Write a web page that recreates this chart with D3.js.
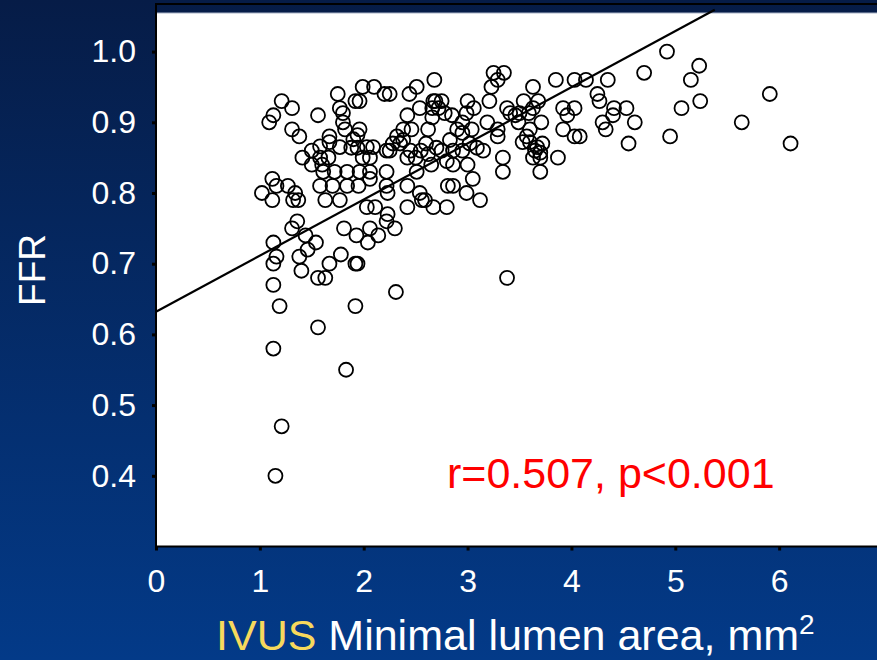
<!DOCTYPE html>
<html>
  <head>
    <meta charset="utf-8">
    <title>FFR vs IVUS MLA</title>
    <script src="https://d3js.org/d3.v7.min.js"></script>
    <style>
      html, body { margin: 0; padding: 0; background: #05245a; }
      svg { display: block; }
      text { font-family: "Liberation Sans", Arial, sans-serif; }
      .axis path.domain { stroke: #000; stroke-width: 2; }
      .axis .tick line { stroke: #000; stroke-width: 3; }
      .axis .tick text { fill: #fff; font-size: 32px; }
    </style>
  </head>
  <body>
    <svg id="chart" width="877" height="660"></svg>
    <script>
      // data: [minimal lumen area mm2, FFR]
      const points = [
        [1.15,0.40],[1.21,0.47],[1.83,0.55],[1.13,0.58],[1.56,0.61],[1.19,0.64],[1.92,0.64],
        [2.31,0.66],[3.38,0.68],[1.13,0.67],[1.56,0.68],[1.63,0.68],
        [1.40,0.69],[1.13,0.70],[1.67,0.70],[1.92,0.70],[1.94,0.70],[1.38,0.71],[1.16,0.71],[1.78,0.713],
        [1.46,0.72],[1.54,0.73],[1.13,0.73],[2.04,0.73],[1.44,0.74],[1.93,0.74],[2.14,0.74],
        [1.31,0.75],[1.81,0.75],[2.06,0.75],[2.30,0.75],[1.36,0.76],[2.22,0.76],
        [2.23,0.77],[2.03,0.78],[2.11,0.78],[2.42,0.78],[2.67,0.78],[2.80,0.78],[2.59,0.79],[2.56,0.79],
        [3.12,0.79],[1.12,0.79],[1.32,0.79],[1.37,0.79],[1.63,0.79],[1.77,0.79],[1.02,0.80],[1.34,0.80],
        [2.23,0.80],[2.54,0.80],[2.99,0.80],
        [1.16,0.81],[1.27,0.81],[1.58,0.81],[1.70,0.81],[1.84,0.81],[1.95,0.81],[2.22,0.81],[2.42,0.81],
        [2.81,0.81],[2.86,0.81],[1.12,0.82],[2.06,0.82],[3.05,0.82],[2.51,0.83],[2.22,0.83],[1.61,0.83],
        [1.72,0.83],[1.84,0.83],[1.96,0.83],[2.06,0.83],[3.34,0.83],[3.70,0.83],
        [1.50,0.84],[1.60,0.84],[2.86,0.84],[3.00,0.84],[1.41,0.85],[1.58,0.85],[1.66,0.85],[1.99,0.85],
        [2.06,0.85],[3.34,0.85],[3.63,0.85],[3.70,0.85],[3.87,0.85],[3.70,0.857],[1.50,0.86],[2.22,0.86],
        [2.25,0.86],[2.86,0.86],[2.95,0.86],[1.58,0.866],[1.77,0.865],[2.03,0.865],[2.09,0.865],[1.88,0.864],
        [1.94,0.864],[2.70,0.864],[3.09,0.864],[3.65,0.86],[3.67,0.865],
        [2.45,0.86],[2.55,0.86],[2.62,0.855],[2.75,0.86],[2.50,0.85],[2.60,0.87],[2.80,0.845],[2.42,0.85],
        [3.15,0.86],[2.65,0.84],
        [1.67,0.872],[1.90,0.876],[2.28,0.87],[2.35,0.87],[2.38,0.875],[2.83,0.875],[3.02,0.87],[3.53,0.872],
        [3.60,0.872],[3.72,0.87],[4.55,0.87],[6.11,0.87],[3.29,0.88],[1.38,0.88],[1.67,0.88],[1.94,0.882],
        [2.32,0.88],[2.95,0.885],[3.57,0.88],[4.03,0.88],[4.08,0.88],[4.95,0.88],
        [1.31,0.89],[1.82,0.89],[1.96,0.89],[2.38,0.89],[2.46,0.89],[2.62,0.89],[2.90,0.89],[3.04,0.89],
        [3.29,0.89],[3.60,0.89],[3.92,0.89],[4.33,0.89],
        [1.09,0.90],[1.80,0.90],[2.95,0.90],[3.19,0.90],[3.49,0.90],[3.71,0.90],[4.30,0.90],[4.61,0.90],
        [5.64,0.90],[2.66,0.907],[1.13,0.91],[1.56,0.91],[1.80,0.913],[2.42,0.91],[2.78,0.913],[2.85,0.91],
        [2.99,0.913],[3.41,0.913],[3.46,0.91],[3.50,0.913],[3.59,0.913],[3.96,0.91],[4.40,0.91],
        [1.31,0.92],[1.77,0.92],[2.54,0.92],[2.66,0.92],[2.72,0.92],[3.06,0.92],[3.38,0.92],[3.63,0.92],
        [3.92,0.92],[4.03,0.92],[4.41,0.92],[4.53,0.92],[5.06,0.92],[2.67,0.93],
        [1.21,0.93],[1.92,0.93],[1.96,0.93],[2.69,0.93],[2.75,0.93],[3.00,0.93],[3.21,0.93],[3.54,0.93],
        [3.68,0.93],[4.27,0.93],[5.24,0.93],[1.75,0.94],[2.20,0.94],[2.25,0.94],[2.44,0.94],[4.25,0.94],
        [5.91,0.94],[1.99,0.95],[2.10,0.95],[2.51,0.95],[3.23,0.95],[3.63,0.95],[2.68,0.96],[3.29,0.96],
        [3.85,0.96],[4.03,0.96],[4.14,0.96],[4.35,0.96],[5.15,0.96],[3.25,0.97],[3.35,0.97],[4.70,0.97],
        [5.23,0.98],[4.92,1.00]
      ];
      const xTicks = [0, 1, 2, 3, 4, 5, 6];
      const yTicks = [0.4, 0.5, 0.6, 0.7, 0.8, 0.9, 1.0];
      // regression line FFR = a + b * MLA, drawn up to where it leaves the box
      const fit = { a: 0.632, b: 0.0794, xEnd: 5.38 };
      const statsText = "r=0.507, p<0.001";

      const width = 877, height = 660;
      const svg = d3.select("#chart");

      // background gradient of the slide
      const defs = svg.append("defs");
      const grad = defs.append("linearGradient")
        .attr("id", "bg")
        .attr("x1", 0).attr("y1", 0).attr("x2", 0).attr("y2", 1);
      grad.append("stop").attr("offset", "0%").attr("stop-color", "#061c47");
      grad.append("stop").attr("offset", "100%").attr("stop-color", "#033a88");
      svg.append("rect")
        .attr("width", width).attr("height", height)
        .attr("fill", "url(#bg)");

      const x = d3.scaleLinear().domain([0, 7]).range([156, 883]);
      const y = d3.scaleLinear().domain([0.3, 1.0]).range([546.5, 51.6]);

      // plot box
      svg.append("rect")
        .attr("x", x(0)).attr("y", 13)
        .attr("width", width - x(0) + 10).attr("height", y(0.3) - 13)
        .attr("fill", "#fff")
        .attr("stroke", "#aab4c8")
        .attr("stroke-width", 1);
      svg.append("line")
        .attr("x1", x(0) - 1).attr("x2", width)
        .attr("y1", 4).attr("y2", 4)
        .attr("stroke", "#000").attr("stroke-width", 2);
      svg.append("line")
        .attr("x1", x(0)).attr("x2", x(0))
        .attr("y1", 3).attr("y2", 14)
        .attr("stroke", "#000").attr("stroke-width", 2);

      // axes
      const xAxis = d3.axisBottom(x)
        .tickValues(xTicks)
        .tickFormat(d3.format("d"))
        .tickSize(4)
        .tickSizeOuter(0)
        .tickPadding(19);
      const yAxis = d3.axisLeft(y)
        .tickValues(yTicks)
        .tickFormat(d3.format(".1f"))
        .tickSize(4)
        .tickSizeOuter(0)
        .tickPadding(16);
      svg.append("g")
        .attr("class", "axis")
        .attr("transform", "translate(0," + y(0.3) + ")")
        .call(xAxis);
      svg.append("g")
        .attr("class", "axis")
        .attr("transform", "translate(" + x(0) + ",0)")
        .call(yAxis);
      svg.selectAll(".axis path.domain").attr("d", null);
      svg.append("line")
        .attr("x1", x(0)).attr("x2", width)
        .attr("y1", y(0.3)).attr("y2", y(0.3))
        .attr("stroke", "#000").attr("stroke-width", 2);
      svg.append("line")
        .attr("x1", x(0)).attr("x2", x(0))
        .attr("y1", 13).attr("y2", y(0.3) + 1)
        .attr("stroke", "#000").attr("stroke-width", 2);

      // regression line
      svg.append("line")
        .attr("x1", x(0)).attr("y1", y(fit.a))
        .attr("x2", x(fit.xEnd)).attr("y2", y(fit.a + fit.b * fit.xEnd))
        .attr("stroke", "#000").attr("stroke-width", 2.2);

      // points
      svg.append("g")
        .selectAll("circle")
        .data(points)
        .join("circle")
          .attr("cx", function(d) { return x(d[0]); })
          .attr("cy", function(d) { return y(d[1]); })
          .attr("r", 7)
          .attr("fill", "none")
          .attr("stroke", "#000")
          .attr("stroke-width", 1.8);

      // labels
      svg.append("text")
        .attr("x", 447).attr("y", 488)
        .attr("fill", "#f00")
        .style("font-size", "43px")
        .text(statsText);
      svg.append("text")
        .attr("transform", "translate(45,270) rotate(-90)")
        .attr("text-anchor", "middle")
        .attr("fill", "#fff")
        .style("font-size", "37px")
        .text("FFR");
      const title = svg.append("text")
        .attr("x", 216).attr("y", 650)
        .attr("fill", "#fff")
        .style("font-size", "43px");
      title.append("tspan").attr("fill", "#f7d95c").text("IVUS");
      title.append("tspan").text(" Minimal lumen area, mm");
      title.append("tspan").attr("dy", -16).style("font-size", "28px").text("2");
    </script>
  </body>
</html>
